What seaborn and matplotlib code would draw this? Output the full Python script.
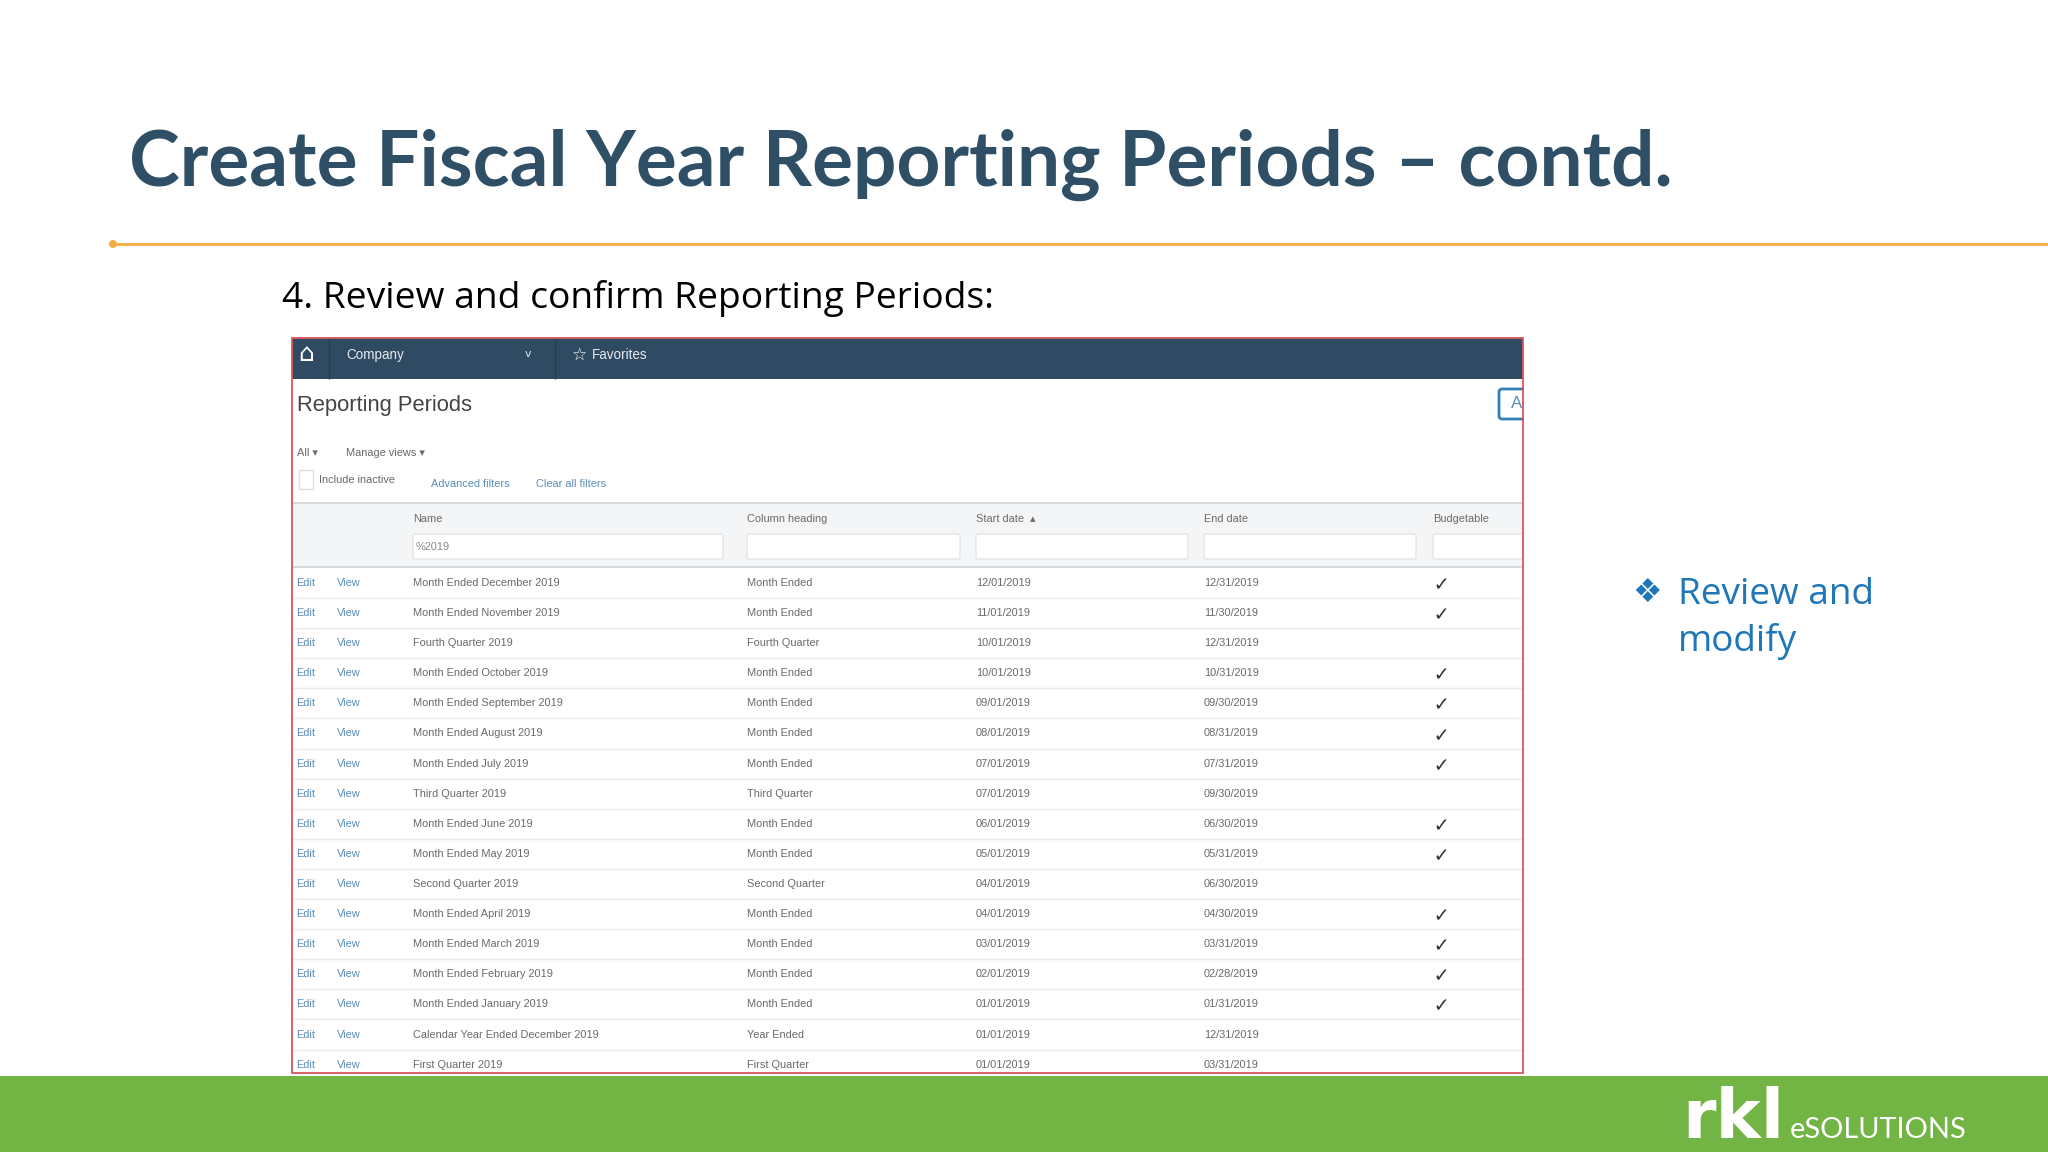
# slide with the fiscal year reporting periods screen
import pandas as pd
import matplotlib
matplotlib.use('Agg')
import matplotlib.pyplot as plt
from matplotlib.patches import Rectangle, FancyBboxPatch
import seaborn as sns

names = ['Month Ended December 2019', 'Month Ended November 2019', 'Fourth Quarter 2019',
         'Month Ended October 2019', 'Month Ended September 2019', 'Month Ended August 2019',
         'Month Ended July 2019', 'Third Quarter 2019', 'Month Ended June 2019',
         'Month Ended May 2019', 'Second Quarter 2019', 'Month Ended April 2019',
         'Month Ended March 2019', 'Month Ended February 2019', 'Month Ended January 2019',
         'Calendar Year Ended December 2019', 'First Quarter 2019']
headings = ['Month Ended', 'Month Ended', 'Fourth Quarter', 'Month Ended', 'Month Ended',
            'Month Ended', 'Month Ended', 'Third Quarter', 'Month Ended', 'Month Ended',
            'Second Quarter', 'Month Ended', 'Month Ended', 'Month Ended', 'Month Ended',
            'Year Ended', 'First Quarter']
start_dates = ['12/01/2019', '11/01/2019', '10/01/2019', '10/01/2019', '09/01/2019',
               '08/01/2019', '07/01/2019', '07/01/2019', '06/01/2019', '05/01/2019',
               '04/01/2019', '04/01/2019', '03/01/2019', '02/01/2019', '01/01/2019',
               '01/01/2019', '01/01/2019']
end_dates = ['12/31/2019', '11/30/2019', '12/31/2019', '10/31/2019', '09/30/2019',
             '08/31/2019', '07/31/2019', '09/30/2019', '06/30/2019', '05/31/2019',
             '06/30/2019', '04/30/2019', '03/31/2019', '02/28/2019', '01/31/2019',
             '12/31/2019', '03/31/2019']
budgetable = [1, 1, 0, 1, 1, 1, 1, 0, 1, 1, 0, 1, 1, 1, 1, 0, 0]

NAVY = '#2f4a63'
LINK = '#5a8db8'
GREY = '#6a6a6a'
BLUE = '#1f76b8'
SANS = ['Liberation Sans', 'DejaVu Sans']
SMALL = 11

# column positions in the screenshot
X_EDIT, X_VIEW, X_NAME, X_HEAD, X_START, X_END, X_BUDGET = 296, 337, 413, 747, 976, 1204, 1433
ROW_TOP, ROW_STEP = 583, 30.1


def px(size):
    # font size given in pixels of the 2048 wide picture
    return size * 72 / 100


def draw_frame(ax):
    ax.add_patch(Rectangle((0, 1076), 2048, 76, color='#72b544', lw=0))
    ax.add_patch(Rectangle((292, 338), 1231, 41, color=NAVY, lw=0))
    ax.add_patch(Rectangle((292, 503), 1231, 64, color='#f3f5f6', lw=0))
    ax.hlines([503, 567], 292, 1523, color='#cfd4d7', lw=1.2)
    for x0, x1 in [(413, 723), (747, 960), (976, 1188), (1204, 1416), (1433, 1523)]:
        ax.add_patch(FancyBboxPatch((x0, 534), x1 - x0, 25, boxstyle='round,pad=0,rounding_size=2',
                                    fc='white', ec='#e2e5e7', lw=1))
    ax.add_patch(FancyBboxPatch((1499, 389), 40, 30, boxstyle='round,pad=0,rounding_size=3',
                                fc='white', ec='#2f7fb5', lw=2))
    ax.add_patch(Rectangle((299, 470), 14, 19, fc='white', ec='#dddddd', lw=1))
    ax.vlines([329, 555], 338, 379, color='#263d52', lw=1)


def draw_nav(ax):
    ax.text(306, 354, '\u2302', color='white', fontsize=px(25), ha='center', va='center',
            family='DejaVu Sans')
    ax.text(346, 355, 'Company', color='#e6eaee', fontsize=px(13.5), va='center', family=SANS)
    ax.text(528, 354, 'v', color='#e6eaee', fontsize=px(11), va='center', ha='center', family='DejaVu Sans')
    ax.text(580, 355, '\u2606', color='white', fontsize=px(17), va='center', ha='center', family='DejaVu Sans')
    ax.text(592, 355, 'Favorites', color='#e6eaee', fontsize=px(13.5), va='center', family=SANS)


def draw_filters(ax):
    ax.text(297, 405, 'Reporting Periods', color='#444444', fontsize=px(22), va='center', family=SANS)
    ax.text(1511, 404, 'A', color=LINK, fontsize=px(17), va='center', family=SANS)
    ax.add_patch(Rectangle((1524, 380), 40, 45, color='white', lw=0, zorder=3.5))
    ax.text(297, 453, 'All \u25be', color=GREY, fontsize=px(SMALL), va='center', family=SANS)
    ax.text(346, 453, 'Manage views \u25be', color=GREY, fontsize=px(SMALL), va='center', family=SANS)
    ax.text(319, 480, 'Include inactive', color=GREY, fontsize=px(SMALL), va='center', family=SANS)
    ax.text(431, 484, 'Advanced filters', color=LINK, fontsize=px(SMALL), va='center', family=SANS)
    ax.text(536, 484, 'Clear all filters', color=LINK, fontsize=px(SMALL), va='center', family=SANS)
    for x, label in [(X_NAME, 'Name'), (X_HEAD, 'Column heading'), (X_START, 'Start date  \u25b4'),
                     (X_END, 'End date'), (X_BUDGET, 'Budgetable')]:
        ax.text(x, 519, label, color=GREY, fontsize=px(SMALL), va='center', family=SANS)
    ax.text(X_NAME + 3, 547, '%2019', color='#888888', fontsize=px(SMALL), va='center', family=SANS)


def draw_rows(ax, rows):
    ax.hlines(rows['y'].iloc[:-1] + ROW_STEP / 2, 292, 1523, color='#e8eaec', lw=1)
    for _, r in rows.iterrows():
        ax.text(X_EDIT, r['y'], 'Edit', color=LINK, fontsize=px(SMALL), va='center', family=SANS)
        ax.text(X_VIEW, r['y'], 'View', color=LINK, fontsize=px(SMALL), va='center', family=SANS)
        ax.text(X_NAME, r['y'], r['name'], color=GREY, fontsize=px(SMALL), va='center', family=SANS)
        ax.text(X_HEAD, r['y'], r['heading'], color=GREY, fontsize=px(SMALL), va='center', family=SANS)
        ax.text(X_START, r['y'], r['start'], color=GREY, fontsize=px(SMALL), va='center', family=SANS)
        ax.text(X_END, r['y'], r['end'], color=GREY, fontsize=px(SMALL), va='center', family=SANS)
    checks = rows[rows['budgetable'] == 1].assign(x=1441)
    sns.scatterplot(data=checks, x='x', y='y', marker=r'$\checkmark$', s=55, color='#333333',
                    linewidth=0, legend=False, ax=ax)


def draw_slide_text(ax):
    ax.text(129, 186, 'Create Fiscal Year Reporting Periods \u2013 contd.', color='#2f4f66',
            fontsize=px(76.6), fontweight='bold', family='Lato', va='baseline')
    ax.hlines(244, 113, 2048, color='#f4ac45', lw=2)
    ax.add_patch(plt.Circle((113, 244), 4, color='#f4ac45', lw=0))
    ax.text(282, 308, '4. Review and confirm Reporting Periods:', color='black', fontsize=px(37.2),
            family='Open Sans', va='baseline')
    ax.text(1647, 592, '\u2756', color=BLUE, fontsize=px(33), ha='center', va='center', family='DejaVu Sans')
    ax.text(1678, 604, 'Review and', color=BLUE, fontsize=px(37), family='Open Sans', va='baseline')
    ax.text(1678, 651, 'modify', color=BLUE, fontsize=px(37), family='Open Sans', va='baseline')
    ax.text(1682, 1138, 'rkl', color='white', fontsize=px(68), fontweight='bold', family='DejaVu Sans',
            va='baseline')
    ax.text(1790, 1138, 'eSOLUTIONS', color='white', fontsize=px(29), fontweight='normal', family='Lato',
            va='baseline')


def main():
    sns.set_theme(style='white')
    rows = pd.DataFrame({'name': names, 'heading': headings, 'start': start_dates,
                         'end': end_dates, 'budgetable': budgetable})
    rows['y'] = ROW_TOP + rows.index * ROW_STEP

    fig = plt.figure(figsize=(20.48, 11.52), dpi=100)
    ax = fig.add_axes([0, 0, 1, 1])
    draw_frame(ax)
    draw_nav(ax)
    draw_filters(ax)
    draw_rows(ax, rows)
    draw_slide_text(ax)
    ax.add_patch(Rectangle((292, 338), 1231, 735, fill=False, ec='#d9565c', lw=1.3, zorder=4))
    ax.set_xlim(0, 2048)
    ax.set_ylim(1152, 0)
    ax.axis('off')
    fig.savefig('out.png', dpi=100, facecolor='white')


if __name__ == '__main__':
    main()
